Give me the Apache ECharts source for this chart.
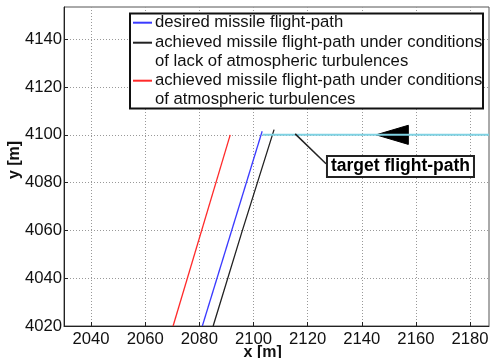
<!DOCTYPE html>
<html><head><meta charset="utf-8">
<script src="https://cdn.jsdelivr.net/npm/echarts@6/dist/echarts.min.js"></script>
<style>html,body{margin:0;padding:0;background:#fff}#c{width:492px;height:358px}</style>
</head><body><div id="c"></div>
<script>
const xTicks = [2040, 2060, 2080, 2100, 2120, 2140, 2160, 2180];
const yTicks = [4020, 4040, 4060, 4080, 4100, 4120, 4140];
const desiredPath = [[2081.1, 4020], [2103.2, 4101.5]];
const achievedNoTurb = [[2085.1, 4020], [2095.9, 4060], [2107.6, 4102.2]];
const achievedTurb = [[2070.3, 4020], [2091.4, 4100]];
const targetPath = [[2103.3, 4100], [2187, 4100]];
const arrowHead = [[2145.3, 4100], [2157.2, 4104], [2157.2, 4096]];
const leader = [[2115.4, 4100.4], [2126.8, 4087.9]];
const labelPoint = [[2154.3, 4086.8]];
const legendNames = [
  'desired missile flight-path',
  'achieved missile flight-path under conditions\nof lack of atmospheric turbulences',
  'achieved missile flight-path under conditions\nof atmospheric turbulences'
];
const seriesColors = ['#3a3aff', '#222222', '#ff2a2a'];
const targetColor = '#7fd2e3';

const FONT = '"Liberation Sans", Arial, sans-serif';
const chart = echarts.init(document.getElementById('c'), null, {renderer: 'canvas'});

const legendLineY = [22.7, 42.7, 61.7, 80.7, 99.3];
const legendTexts = [legendNames[0], ...legendNames[1].split('\n'), ...legendNames[2].split('\n')];
const swatchRows = [0, 1, 3];
const legendGraphic = [
  {type: 'rect', shape: {x: 130, y: 13.5, width: 353, height: 95}, style: {fill: '#fff', stroke: '#111', lineWidth: 2}, z: 100}
];
legendTexts.forEach((t, i) => legendGraphic.push({
  type: 'text', x: 155, y: legendLineY[i], z: 101,
  style: {text: t, font: '16.7px ' + FONT, fill: '#111', textVerticalAlign: 'middle'}
}));
swatchRows.forEach((r, k) => legendGraphic.push({
  type: 'line', z: 101, shape: {x1: 133, y1: legendLineY[r], x2: 152, y2: legendLineY[r]},
  style: {stroke: seriesColors[k], lineWidth: 2}
}));

const axisCommon = {
  axisLine: {show: true, lineStyle: {color: '#222', width: 1}},
  axisTick: {show: true, inside: true, length: 4, lineStyle: {color: '#222'}},
  splitLine: {show: true, lineStyle: {color: '#999', type: [1, 2], width: 1}},
  axisLabel: {color: '#111', fontSize: 16.7, fontFamily: FONT, formatter: v => String(v)}
};

const option = {
  animation: false,
  backgroundColor: '#fff',
  grid: {left: 64, top: 7, right: 3, bottom: 32, show: true, borderColor: '#555', borderWidth: 1, containLabel: false},
  xAxis: Object.assign({}, axisCommon, {
    type: 'value', min: 2030, max: 2187,
    axisTick: Object.assign({}, axisCommon.axisTick, {customValues: xTicks}),
    axisLabel: Object.assign({}, axisCommon.axisLabel, {customValues: xTicks, margin: 5})
  }),
  yAxis: Object.assign({}, axisCommon, {
    type: 'value', min: 4020, max: 4153.5,
    axisTick: Object.assign({}, axisCommon.axisTick, {customValues: yTicks}),
    axisLabel: Object.assign({}, axisCommon.axisLabel, {customValues: yTicks, margin: 2})
  }),
  graphic: [
    {type: 'text', x: 15, y: 160, rotation: Math.PI / 2, z: 50,
     style: {text: 'y [m]', font: 'bold 16px ' + FONT, fill: '#111', textAlign: 'center', textVerticalAlign: 'middle'}},
    {type: 'text', x: 262.7, y: 352.5, z: 50,
     style: {text: 'x [m]', font: 'bold 16px ' + FONT, fill: '#111', textAlign: 'center', textVerticalAlign: 'middle'}}
  ].concat(legendGraphic),
  series: [
    {name: legendNames[0], type: 'line', data: desiredPath, showSymbol: false, lineStyle: {color: seriesColors[0], width: 1.3}},
    {name: legendNames[1], type: 'line', data: achievedNoTurb, showSymbol: false, lineStyle: {color: seriesColors[1], width: 1.3}},
    {name: legendNames[2], type: 'line', data: achievedTurb, showSymbol: false, lineStyle: {color: seriesColors[2], width: 1.3}},
    {name: 'target', type: 'line', data: targetPath, showSymbol: false, lineStyle: {color: targetColor, width: 2}},
    {name: 'leader', type: 'line', data: leader, showSymbol: false, lineStyle: {color: '#222', width: 1.5}},
    {name: 'arrow', type: 'custom', data: [0],
     renderItem: function (params, api) {
       const pts = arrowHead.map(p => api.coord(p));
       return {type: 'polygon', shape: {points: pts}, style: {fill: '#000', stroke: '#000', lineWidth: 1}};
     }},
    {name: 'label', type: 'scatter', data: labelPoint, symbolSize: 0, z: 10,
     itemStyle: {opacity: 1},
     label: {show: true, position: 'inside', formatter: 'target flight-path', opacity: 1,
       fontFamily: FONT, fontWeight: 'bold', fontSize: 17.5, color: '#000',
       backgroundColor: '#ffffff', borderColor: '#222', borderWidth: 2, padding: [1, 3, 0, 3]}}
  ]
};
chart.setOption(option);
</script></body></html>
